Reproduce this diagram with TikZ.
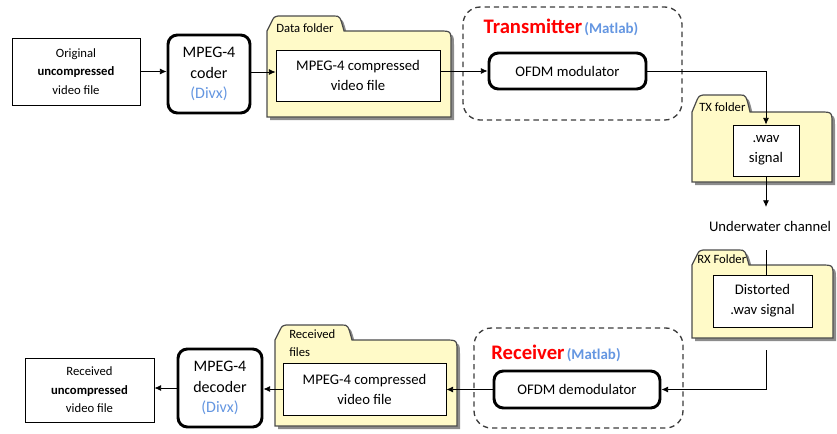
\documentclass[tikz,border=0pt]{standalone}
\usepackage{fontspec}
\setmainfont{Carlito}
\usetikzlibrary{arrows.meta}

\definecolor{foldfill}{RGB}{255,250,200}
\definecolor{foldline}{RGB}{75,75,75}
\definecolor{softblue}{RGB}{100,150,225}
\definecolor{dashgray}{RGB}{60,60,60}

\newcommand{\mainsz}{\fontsize{11}{15}\selectfont}
\newcommand{\smallsz}{\fontsize{9.5}{13.8}\selectfont}
\newcommand{\coderfont}{\fontsize{12}{15.4}\selectfont}

% folder: #1 left, #2 tab top, #3 body top, #4 bottom, #5 right, #6 tab right
\newcommand{\drawfolder}[6]{%
  \fill[black!45,shift={(3,3)}] (#1,#4) -- (#1,#3) -- ({#1+5},{#2+5})
    .. controls ({#1+7},{#2+1}) .. ({#1+11},#2) -- ({#6-10},#2)
    .. controls ({#6-4},#2) .. (#6,#3) -- ({#5-12},#3)
    .. controls (#5,#3) .. (#5,{#3+12}) -- (#5,#4) -- cycle;
  \filldraw[fill=foldfill,draw=foldline,line width=0.9pt] (#1,#4) -- (#1,#3) -- ({#1+5},{#2+5})
    .. controls ({#1+7},{#2+1}) .. ({#1+11},#2) -- ({#6-10},#2)
    .. controls ({#6-4},#2) .. (#6,#3) -- ({#5-12},#3)
    .. controls (#5,#3) .. (#5,{#3+12}) -- (#5,#4) -- cycle;
}

\tikzset{
  size/.style 2 args={minimum width=#1*0.75pt, minimum height=#2*0.75pt},
  plainbox/.style={draw=black, line width=0.6pt, fill=white, inner sep=0pt, align=center},
  thickbox/.style={draw=black, line width=2.2pt, rounded corners=7pt, fill=white, inner sep=0pt, align=center},
  groupbox/.style={draw=dashgray, dash pattern=on 4pt off 3pt, line width=1pt, rounded corners=13pt},
  arr/.style={-{Latex[length=5pt,width=4.5pt]}, line width=0.6pt},
  conn/.style={line width=0.6pt},
  foldlabel/.style={font=\smallsz, anchor=west, inner sep=0pt, align=left},
}

\begin{document}
\begin{tikzpicture}[x=0.75pt,y=-0.75pt]
\useasboundingbox (0,0) rectangle (837,433);

% dashed transmitter / receiver groups
\draw[groupbox] (463,7) rectangle (682,120);
\draw[groupbox] (474,328) rectangle (683,428);

% folders
\drawfolder{267}{16}{31}{117}{451}{344}
\drawfolder{692}{95}{112}{182}{832}{750}
\drawfolder{692}{250}{265}{338}{833}{749}
\drawfolder{275}{325}{340}{426}{457}{352}

\node[foldlabel] (datalbl) at (276,28) {Data folder};
\node[foldlabel] (txlbl) at (699,107) {TX folder};
\node[foldlabel] (rxlbl) at (697,259) {RX Folder};
\node[foldlabel, font=\fontsize{9.5}{13.5}\selectfont] (reclbl) at (289,343) {Received\\files};

% titles of the groups
\node[anchor=base, inner sep=0pt] (txtitle) at (561,33)
  {\textcolor{red}{\fontsize{15.5}{18}\selectfont\bfseries Transmitter}\,\textcolor{softblue}{\fontsize{11.2}{13}\selectfont\bfseries (Matlab)}};
\node[anchor=base, inner sep=0pt] (rxtitle) at (556,359)
  {\textcolor{red}{\fontsize{15.5}{18}\selectfont\bfseries Receiver}\,\textcolor{softblue}{\fontsize{11.2}{13}\selectfont\bfseries (Matlab)}};

% top row
\node[plainbox, font=\smallsz, size={128}{67}] (orig) at (76,71.5)
  {Original\\\textbf{uncompressed}\\video file};
\node[thickbox, font=\coderfont, size={82}{78}] (coder) at (209,74)
  {MPEG-4\\coder\\\textcolor{softblue}{(Divx)}};
\node[plainbox, font=\mainsz, size={164}{51}] (datain) at (358,75.5)
  {MPEG-4 compressed\\video file};
\node[thickbox, font=\mainsz, size={157}{36}] (mod) at (567.5,71) {OFDM modulator};

% right column
\node[plainbox, font=\mainsz, size={66}{51}] (wav) at (766,150.5) {.wav\\signal};
\node[font=\mainsz, inner sep=0pt] (chan) at (770,226) {Underwater channel};
\node[plainbox, font=\mainsz, size={99}{52}] (dist) at (762.5,301) {Distorted\\.wav signal};

% bottom row
\node[thickbox, font=\mainsz, size={166}{37}] (demod) at (577,389.5) {OFDM demodulator};
\node[plainbox, font=\mainsz, size={163}{52}] (recin) at (364.5,389)
  {MPEG-4 compressed\\video file};
\node[thickbox, font=\coderfont, size={84}{78}] (decoder) at (220,388)
  {MPEG-4\\decoder\\\textcolor{softblue}{(Divx)}};
\node[plainbox, font=\smallsz, size={129}{64}] (recv) at (89.5,390)
  {Received\\\textbf{uncompressed}\\video file};

% free ends of the channel path
\coordinate (chtip) at (766,207);
\coordinate (rxtop) at (766,250);
\coordinate (rxout) at (766,350);

% connectors
\draw[arr] (orig.east) -- (orig.east -| coder.west);
\draw[arr] (coder.east |- 0,72) -- (datain.west |- 0,72);
\draw[arr] (datain.east |- mod.west) -- (mod.west);
\draw[arr] (mod.east) -| (wav.north);
\draw[arr] (wav.south) -- (chtip);
\draw[conn] (rxtop) -- (rxtop |- dist.north);
\draw[arr] (rxout) |- (demod.east);
\draw[arr] (demod.west) -- (demod.west -| recin.east);
\draw[arr] (recin.west) -- (recin.west -| decoder.east);
\draw[arr] (decoder.west) -- (decoder.west -| recv.east);
\end{tikzpicture}
\end{document}
